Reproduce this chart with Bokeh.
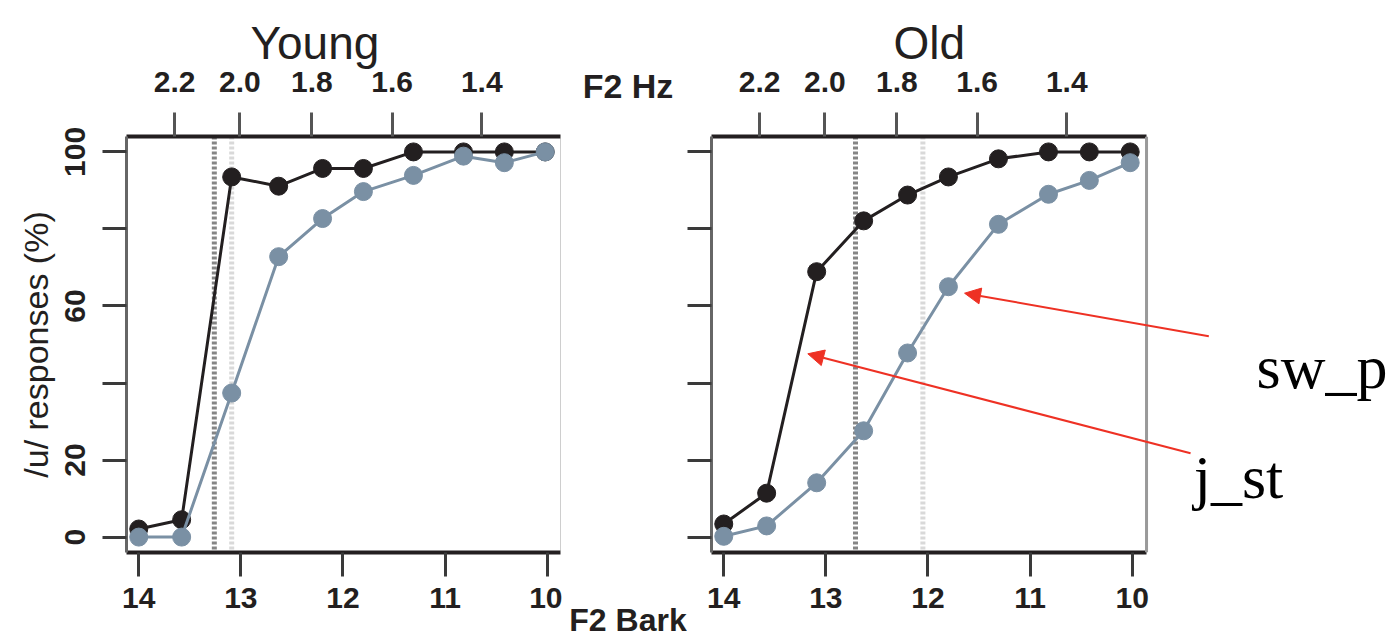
import math
from bokeh.plotting import figure
from bokeh.models import (Range1d, LinearAxis, FixedTicker, Span, Label, Arrow, NormalHead,
                          CustomLabelingPolicy)
from bokeh.layouts import row
from bokeh.embed import file_html
from bokeh.resources import INLINE

# ---------------- data ----------------
bark_stimuli = [14.0, 13.58, 13.09, 12.63, 12.2, 11.8, 11.31, 10.82, 10.42, 10.02]
young_j_st = [2.1, 4.5, 93.5, 91.1, 95.7, 95.7, 100, 100, 100, 100]
young_sw_p = [0, 0, 37.4, 72.8, 82.7, 89.7, 93.9, 98.9, 97.2, 100]
old_j_st = [3.4, 11.4, 68.9, 82.1, 88.8, 93.5, 98.2, 100, 100, 100]
old_sw_p = [0.2, 2.9, 14.1, 27.6, 47.8, 65.0, 81.2, 89.0, 92.6, 97.2]
young_boundaries = [13.26, 13.09]   # j_st, sw_p
old_boundaries = [12.71, 12.05]     # j_st, sw_p

bark_ticks = [14, 13, 12, 11, 10]
hz_ticks = [2200, 2000, 1800, 1600, 1400]
hz_labels = ["2.2", "2.0", "1.8", "1.6", "1.4"]
pct_ticks = [0, 20, 40, 60, 80, 100]
pct_shown = [0, 1, 3, 5]            # indices of the % labels that are printed
panel_titles = ["Young", "Old"]
series_names = ["j_st", "sw_p"]


def hz_to_bark(f):
    # Traunmueller (1990) scale conversion used for the upper axis
    return 26.81 * f / (1960.0 + f) - 0.53


hz_pos = [hz_to_bark(f) for f in hz_ticks]

BLACK = "#231f20"
BLUE = "#7a90a4"
RED = "#ee3124"
SANS = "Liberation Sans"
BOX_LEFT, BOX_RIGHT = 14.12, 9.86
PX_PER_BARK = 102.12


def make_panel(width, left_border, frame_w, title, title_offset, jst, swp, bounds, show_ylabels):
    p = figure(width=width, height=640,
               x_range=Range1d(BOX_LEFT, BOX_LEFT - frame_w / PX_PER_BARK),
               y_range=Range1d(-4, 104),
               output_backend="svg", toolbar_location=None,
               x_axis_location=None, y_axis_location=None,
               min_border_left=left_border, min_border_right=width - left_border - frame_w,
               min_border_top=136, min_border_bottom=88)
    p.grid.visible = False
    p.background_fill_color = "white"
    p.border_fill_color = "white"

    p.title.text = title
    p.title.align = "left"
    p.title.offset = title_offset
    p.title.standoff = 0
    p.title.text_font = SANS
    p.title.text_font_style = "normal"
    p.title.text_font_size = "46px"
    p.title.text_color = BLACK

    xb = LinearAxis(ticker=FixedTicker(ticks=bark_ticks), bounds=(BOX_RIGHT, BOX_LEFT))
    xt = LinearAxis(ticker=FixedTicker(ticks=hz_pos), bounds=(BOX_RIGHT, BOX_LEFT),
                    major_label_overrides=dict(zip(hz_pos, hz_labels)))
    yl = LinearAxis(ticker=FixedTicker(ticks=pct_ticks), major_label_orientation="vertical")
    for ax in (xb, xt, yl):
        ax.major_tick_in = 0
        ax.major_tick_out = 24
        ax.minor_tick_in = 0
        ax.minor_tick_out = 0
        ax.major_tick_line_width = 3
        ax.major_tick_line_color = "#3a3a3a"
        ax.major_label_text_font = SANS
        ax.major_label_text_font_style = "bold"
        ax.major_label_text_font_size = "30px"
        ax.major_label_text_color = BLACK
    xb.axis_line_color = BLACK
    xb.axis_line_width = 4
    xb.major_label_standoff = 11
    xt.axis_line_color = BLACK
    xt.axis_line_width = 4
    xt.major_label_standoff = 21
    xt.major_tick_line_color = "#555555"
    yl.axis_line_color = "#666666"
    yl.axis_line_width = 3
    if show_ylabels:
        yl.major_label_standoff = 17
        yl.major_label_policy = CustomLabelingPolicy(code="return %s" % pct_shown)
        yl.axis_label = "/u/ responses (%)"
        yl.axis_label_standoff = 8
        yl.axis_label_text_font = SANS
        yl.axis_label_text_font_style = "normal"
        yl.axis_label_text_font_size = "34px"
        yl.axis_label_text_color = BLACK
    else:
        yl.major_label_standoff = 0
        yl.major_label_text_font_size = "0px"
        yl.major_label_policy = CustomLabelingPolicy(code="return []")
    p.add_layout(xb, "below")
    p.add_layout(xt, "above")
    p.add_layout(yl, "left")

    # right edge of the panel box
    p.add_layout(Span(location=BOX_RIGHT, dimension="height", line_color="#9a9a9a",
                      line_width=3))
    p.outline_line_color = None

    # category boundaries
    p.add_layout(Span(location=bounds[0], dimension="height", line_color="#858585",
                      line_width=5, line_dash="3 2", level="underlay"))
    p.add_layout(Span(location=bounds[1], dimension="height", line_color="#d9d9d9",
                      line_width=5, line_dash="3 2", level="underlay"))

    p.line(bark_stimuli, jst, line_color=BLACK, line_width=3)
    p.scatter(bark_stimuli, jst, marker="circle", size=18, fill_color=BLACK, line_color=BLACK)
    p.line(bark_stimuli, swp, line_color=BLUE, line_width=3)
    p.scatter(bark_stimuli, swp, marker="circle", size=18, fill_color=BLUE, line_color=BLUE)
    return p


left = make_panel(562, 126, 434, panel_titles[0], 124,
                  young_j_st, young_sw_p, young_boundaries, True)
right = make_panel(704, 24, 680, panel_titles[1], 182,
                   old_j_st, old_sw_p, old_boundaries, False)

# strip between the panels holding the shared axis titles
mid = figure(width=125, height=640, x_range=Range1d(0, 1), y_range=Range1d(0, 1),
             output_backend="svg", toolbar_location=None,
             x_axis_location=None, y_axis_location=None,
             min_border_left=6, min_border_right=0, min_border_top=136, min_border_bottom=88)
mid.grid.visible = False
mid.outline_line_color = None
for place, text, standoff, size in (("above", "F2 Hz", 32, "34px"),
                                    ("below", "F2 Bark", 49, "32px")):
    ax = LinearAxis(ticker=FixedTicker(ticks=[]), axis_label=text,
                    axis_label_standoff=standoff, axis_line_color=None,
                    major_tick_in=0, major_tick_out=0, minor_tick_in=0, minor_tick_out=0,
                    major_label_standoff=0)
    ax.axis_label_text_font = SANS
    ax.axis_label_text_font_style = "bold"
    ax.axis_label_text_font_size = size
    ax.axis_label_text_color = BLACK
    mid.add_layout(ax, place)

# annotations with arrows (Old panel)
right.add_layout(Arrow(end=NormalHead(size=16, fill_color=RED, line_color=RED),
                       x_start=9.25, y_start=52.16, x_end=11.642, y_end=63.32,
                       line_color=RED, line_width=2))
right.add_layout(Arrow(end=NormalHead(size=16, fill_color=RED, line_color=RED),
                       x_start=9.429, y_start=21.78, x_end=13.177, y_end=47.59,
                       line_color=RED, line_width=2))
right.add_layout(Label(x=8.783, y=44.1, text=series_names[1], text_align="left",
                       text_baseline="alphabetic", text_font="Liberation Serif",
                       text_font_size="62px", text_color="black"))
right.add_layout(Label(x=9.398, y=15.55, text=series_names[0], text_align="left",
                       text_baseline="alphabetic", text_font="Liberation Serif",
                       text_font_size="62px", text_color="black"))

layout = row(left, mid, right)
open("out.html", "w").write(file_html(layout, INLINE))
